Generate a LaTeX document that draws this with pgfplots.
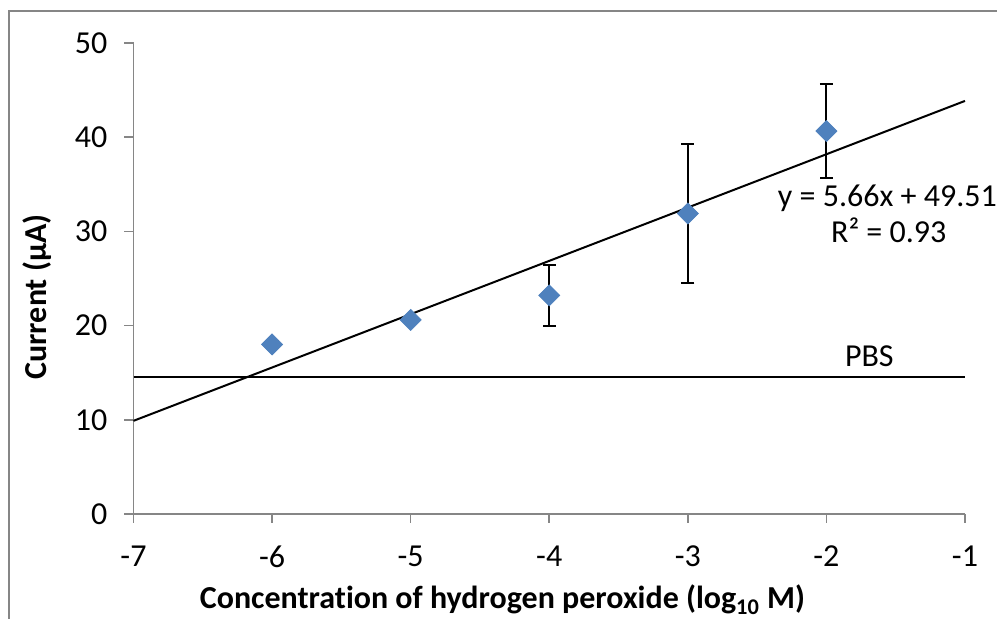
\documentclass[border=0pt]{standalone}
\usepackage{fontspec}
\setmainfont{Carlito}[Ligatures=NoCommon]
\usepackage{pgfplots}
\pgfplotsset{compat=1.18}
\definecolor{axgray}{RGB}{134,134,134}
\definecolor{mblue}{RGB}{79,129,189}
\pgfplotstableread{
x y e
-6 18.0 0.4
-5 20.6 0.2
-4 23.2 3.2
-3 31.9 7.35
-2 40.65 5.0
}\datatab
\begin{document}
\fontsize{16}{19}\selectfont
\begin{tikzpicture}
\useasboundingbox (0,0) rectangle (498.5pt,309.5pt);
\draw[axgray, line width=1pt] (4.5pt,0) -- (4.5pt,304pt) -- (498.5pt,304pt);
\begin{axis}[
  at={(66.75pt,52.5pt)}, anchor=south west,
  scale only axis, width=415.75pt, height=235.5pt,
  xmin=-7, xmax=-1, ymin=0, ymax=50,
  axis x line*=bottom, axis y line*=left,
  xtick={-7,-6,...,-1}, ytick={0,10,...,50},
  tick align=outside, major tick length=4.5pt,
  axis line style={axgray, line width=0.75pt},
  tick style={axgray, line width=0.75pt},
  /pgf/number format/assume math mode=true,
  ticklabel style={font=\fontsize{16}{19}\selectfont},
  xticklabel style={yshift=-6pt},
  yticklabel style={xshift=-3pt},
  clip=false,
]
\addplot[black, line width=1pt] coordinates {(-7,9.89) (-1,43.85)};
\addplot[black, line width=1pt] coordinates {(-7,14.5) (-1,14.5)};
\addplot[draw=none, mark=none,
  error bars/.cd, y dir=both, y explicit,
  error bar style={black, line width=1pt},
  error mark options={black, line width=1pt, mark size=3.25pt, rotate=90}]
  table[x=x, y=y, y error=e] {\datatab};
\addplot[only marks, mark=square*, mark size=3.7pt,
  mark options={rotate=45, fill=mblue, draw=mblue}]
  table[x=x, y=y] {\datatab};
\node at (axis cs:-1.69,16.7) {PBS};
\node at (axis cs:-1.56,33.5) {y = 5.66x + 49.51};
\node at (axis cs:-1.55,30.1) {R² = 0.93};
\end{axis}
\node[rotate=90, font=\bfseries] at (18.5pt,161pt) {Current (μA)};
\node[anchor=base, font=\bfseries] at (251.25pt,5pt) {Concentration of hydrogen peroxide (log\textsubscript{10} M)};
\end{tikzpicture}
\end{document}
